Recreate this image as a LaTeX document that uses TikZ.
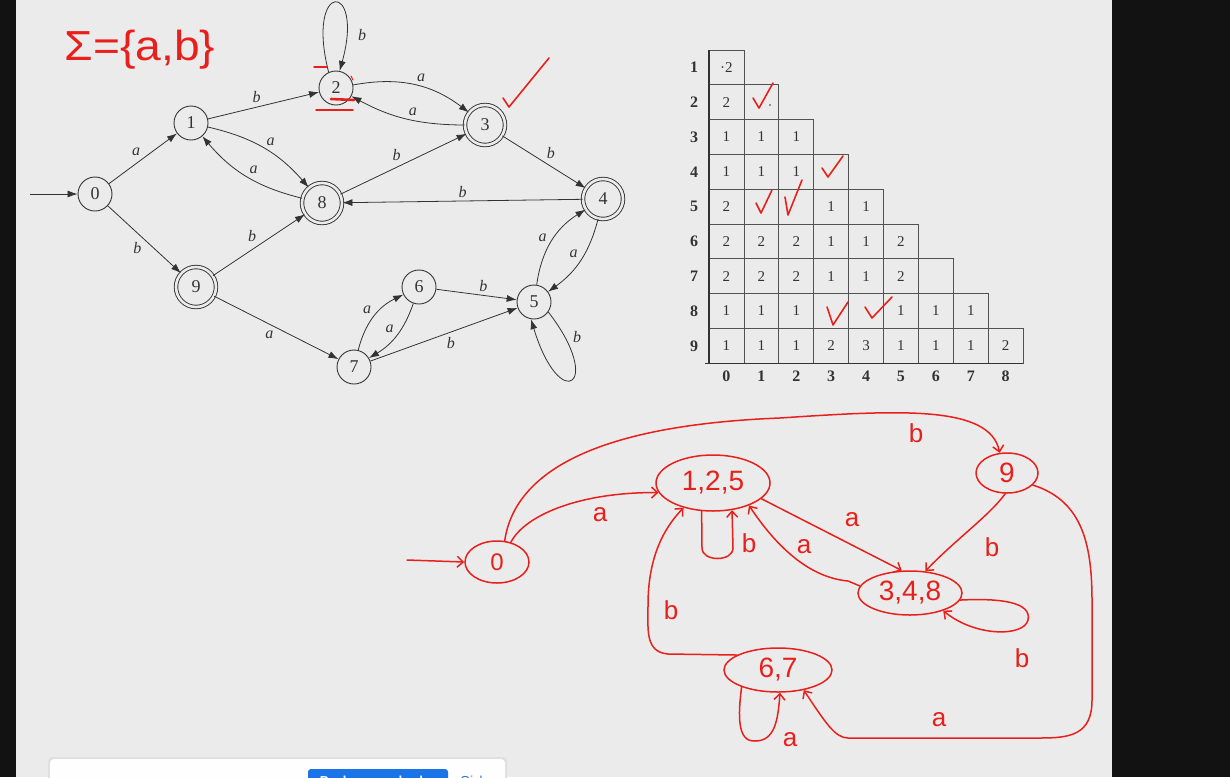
\documentclass[tikz,border=0pt]{standalone}
\usepackage{fontspec}
\setmainfont{Liberation Serif}
\newfontfamily\handfont{Liberation Sans}
\usetikzlibrary{arrows.meta,shapes.geometric}
\definecolor{bg}{HTML}{EBEBEB}
\definecolor{pen}{HTML}{E8201C}
\definecolor{ink}{HTML}{333333}
\definecolor{dark}{HTML}{121212}
\definecolor{btn}{HTML}{1A73E8}
\begin{document}
\begin{tikzpicture}[x=1pt,y=-1pt,
  st/.style={circle, draw=ink, line width=0.9pt, minimum size=34pt, inner sep=0pt,
    font=\fontsize{18}{18}\selectfont, text=ink},
  acc/.style={st, double=bg, double distance=2.6pt, minimum size=40pt},
  e/.style={draw=ink, line width=0.8pt, -{Latex[length=10pt,width=7pt]}},
  lbl/.style={font=\itshape\fontsize{16}{16}\selectfont, text=ink, inner sep=2.5pt},
  cellbox/.style={draw=ink!85, line width=0.7pt},
  num/.style={font=\fontsize{15}{15}\selectfont, text=ink, inner sep=0pt},
  rowlab/.style={font=\bfseries\fontsize{16}{16}\selectfont, text=ink, inner sep=0pt},
  chk/.style={draw=pen, line width=1.6pt, line cap=round, line join=round},
  hs/.style={ellipse, draw=pen, line width=1.5pt, inner sep=0pt, text=pen,
    font=\handfont\fontsize{28}{28}\selectfont},
  pe/.style={draw=pen, line width=1.5pt, line cap=round, line join=round,
    -{Straight Barb[length=6pt,width=11pt]}},
  rl/.style={text=pen, font=\handfont\fontsize{26}{26}\selectfont, inner sep=0pt}
]
\useasboundingbox (0,0) rectangle (1230,777);
\clip (0,0) rectangle (1230,777);
\fill[bg] (0,0) rectangle (1230,777);
\fill[dark] (0,0) rectangle (16,777);
\fill[dark] (1112,0) rectangle (1230,777);

% ---------- top NFA ----------
\node[st]  (q0) at (95,194) {0};
\node[st]  (q1) at (191,123) {1};
\node[st]  (q2) at (336,88) {2};
\node[acc] (q3) at (485,125) {3};
\node[acc] (q4) at (603,199) {4};
\node[st]  (q5) at (534,302) {5};
\node[st]  (q6) at (419,287) {6};
\node[st]  (q7) at (354,367) {7};
\node[acc] (q8) at (322,203) {8};
\node[acc] (q9) at (196,287) {9};
\coordinate (s0) at (30,194);

\draw[e] (s0) -- (q0);
\draw[e] (q0) -- node[lbl,auto] {a} (q1);
\draw[e] (q0) -- node[lbl,auto,swap] {b} (q9);
\draw[e] (q1) -- node[lbl,auto] {b} (q2);
\draw[e] (q1) to[bend left=18] node[lbl,auto] {a} (q8);
\draw[e] (q8) to[bend left=18] node[lbl,auto,swap] {a} (q1);
\draw[e] (q2) to[bend left=24] node[lbl,auto] {a} (q3);
\draw[e] (q3) to[bend left=14] node[lbl,auto,swap] {a} (q2);
\draw[e] (q2.115) .. controls (305,-20) and (365,-20) .. (q2.78);
\node[lbl] (lb2) at (362,35) {b};
\draw[e] (q8) -- node[lbl,auto] {b} (q3);
\draw[e] (q3) -- node[lbl,auto] {b} (q4);
\draw[e] (q4) -- node[lbl,auto,swap] {b} (q8);
\draw[e] (q9) -- node[lbl,auto] {b} (q8);
\draw[e] (q9) -- node[lbl,auto,swap] {a} (q7);
\draw[e] (q7) to[bend left=25] node[lbl,auto] {a} (q6);
\draw[e] (q6) to[bend left=20] node[lbl,auto,swap] {a} (q7);
\draw[e] (q6) -- node[lbl,auto] {b} (q5);
\draw[e] (q7) -- node[lbl,auto,swap] {b} (q5);
\draw[e] (q5) to[bend left=25] node[lbl,auto,pos=0.45] {a} (q4);
\draw[e] (q4) to[bend left=20] node[lbl,auto,swap] {a} (q5);
\draw[e] (q5.-35) .. controls (605,385) and (560,415) .. (q5.-100);
\node[lbl] (lb5) at (577,337) {b};

% red notes on top part
\node[text=pen, font=\handfont\fontsize{42}{42}\selectfont, xscale=1.1] (sigma) at (140,50) {Σ=\{a,b\}};
\draw[chk] (503,98) -- (509,107) -- (549,58);
\draw[chk, line width=1.4pt] (316,110) -- (353,110);
\draw[chk, line width=2.6pt] (331,99) -- (354,100);
\draw[chk, line width=1.4pt] (314,67) -- (327,67);
\draw[chk, line width=1pt] (351,76) -- (353,80);

% ---------- table ----------
\foreach \r in {1,...,9}{
  \pgfmathtruncatemacro{\cm}{\r-1}
  \foreach \c in {0,...,\cm}{
    \draw[cellbox] ({709+34.9*\c},{50+34.8*(\r-1)}) rectangle ++(34.9,34.8);
  }
}
\draw[ink, line width=1.1pt] (709,50) -- (709,363.2);
\draw[ink, line width=1.1pt] (705,363.2) -- (1023,363.2);
\foreach \r/\c/\v in {1/0/{·2}, 2/0/2,
  3/0/1, 3/1/1, 3/2/1,
  4/0/1, 4/1/1, 4/2/1,
  5/0/2, 5/3/1, 5/4/1,
  6/0/2, 6/1/2, 6/2/2, 6/3/1, 6/4/1, 6/5/2,
  7/0/2, 7/1/2, 7/2/2, 7/3/1, 7/4/1, 7/5/2,
  8/0/1, 8/1/1, 8/2/1, 8/5/1, 8/6/1, 8/7/1,
  9/0/1, 9/1/1, 9/2/1, 9/3/2, 9/4/3, 9/5/1, 9/6/1, 9/7/1, 9/8/2}{
  \node[num] (t\r\c) at ({709+34.9*(\c+0.5)},{50+34.8*(\r-0.5)}) {\v};
}
\foreach \r in {1,...,9}{
  \node[rowlab] (rl\r) at (694,{50+34.8*(\r-0.5)}) {\r};
}
\foreach \c in {0,...,8}{
  \node[rowlab] (cl\c) at ({709+34.9*(\c+0.5)},376) {\c};
}
% red checks in table
\draw[chk] (753,98) -- (759,108) -- (773,83);
\fill[ink] (770,105) circle (0.9pt);
\draw[chk] (822,168) -- (828,177) -- (843,156);
\draw[chk] (756,203) -- (761,213) -- (772,190);
\draw[chk] (785,197) -- (788,215) -- (802,180);
\draw[chk] (827,307) -- (833,325) -- (848,302);
\draw[chk] (865,307) -- (872,318) -- (892,297);

% ---------- minimized DFA (red, handwritten) ----------
\node[hs, minimum width=64pt, minimum height=42pt, font=\handfont\fontsize{24}{24}\selectfont] (D0) at (497,562) {0};
\node[hs, minimum width=114pt, minimum height=56pt] (D125) at (713,483) {1,2,5};
\node[hs, minimum width=62pt, minimum height=40pt] (D9) at (1007,473) {9};
\node[hs, minimum width=104pt, minimum height=44pt] (D348) at (910,593) {3,4,8};
\node[hs, minimum width=108pt, minimum height=44pt] (D67) at (778,670) {6,7};
\coordinate (s1) at (407,560);

\draw[pe] (s1) -- (D0.west);
\draw[pe] (D0.55) .. controls (525,515) and (580,492) .. (D125.190);
\node[rl] (la0) at (600,515) {a};
\draw[pe] (D0.70) .. controls (515,470) and (600,425) .. (780,418)
  .. controls (900,410) and (990,405) .. (D9.110);
\node[rl] (lb09) at (916,433) {b};
\draw[pe] (D125.-112) -- (702,548) .. controls (702,562) and (733,562) .. (733,548) -- (D125.-55);
\node[rl] (lbl125) at (749,543) {b};
\draw[pe] (D125.-18) -- (D348.110);
\node[rl] (la1) at (852,520) {a};
\draw[pe] (D348.172) -- (848,581) .. controls (815,578) and (782,555) .. (D125.-32);
\node[rl] (la2) at (804,547) {a};
\draw[pe] (D9.-95) .. controls (990,515) and (955,540) .. (D348.55);
\node[rl] (lb3) at (992,547) {b};
\draw[pe] (D348.-8) .. controls (1000,598) and (1032,602) .. (1028,620)
  .. controls (1024,637) and (975,637) .. (D348.-28);
\node[rl] (lbl348) at (1022,658) {b};
\draw[pe] (D67.160) -- (668,654) .. controls (645,652) and (648,630) .. (648,605)
  .. controls (648,560) and (662,530) .. (D125.-140);
\node[rl] (lb4) at (671,610) {b};
\draw[pe] (D67.-155) .. controls (738,715) and (737,742) .. (755,741)
  .. controls (775,741) and (778,720) .. (D67.-85);
\node[rl] (lal67) at (790,740) {a};
\draw[pe] (D9.-25) .. controls (1080,500) and (1092,540) .. (1092,600) -- (1092,700)
  .. controls (1092,735) and (1070,738) .. (1040,738) -- (848,738)
  .. controls (835,738) and (825,722) .. (D67.-38);
\node[rl] (la5) at (939,720) {a};

% ---------- screen-share bar (cut off at the bottom edge) ----------
\fill[black!12, rounded corners=4pt] (48,757) rectangle (507,795);
\fill[white!96!bg, rounded corners=4pt] (50,759) rectangle (505,795);
\fill[btn, rounded corners=3pt] (308,769) rectangle (448,795);
\node[anchor=base, text=white, font=\handfont\bfseries\fontsize{13}{13}\selectfont] (bt) at (378,785) {Paylaşmayı durdur};
\node[anchor=base, text=btn, font=\handfont\fontsize{13}{13}\selectfont] (gz) at (475,785) {Gizle};
\end{tikzpicture}
\end{document}
